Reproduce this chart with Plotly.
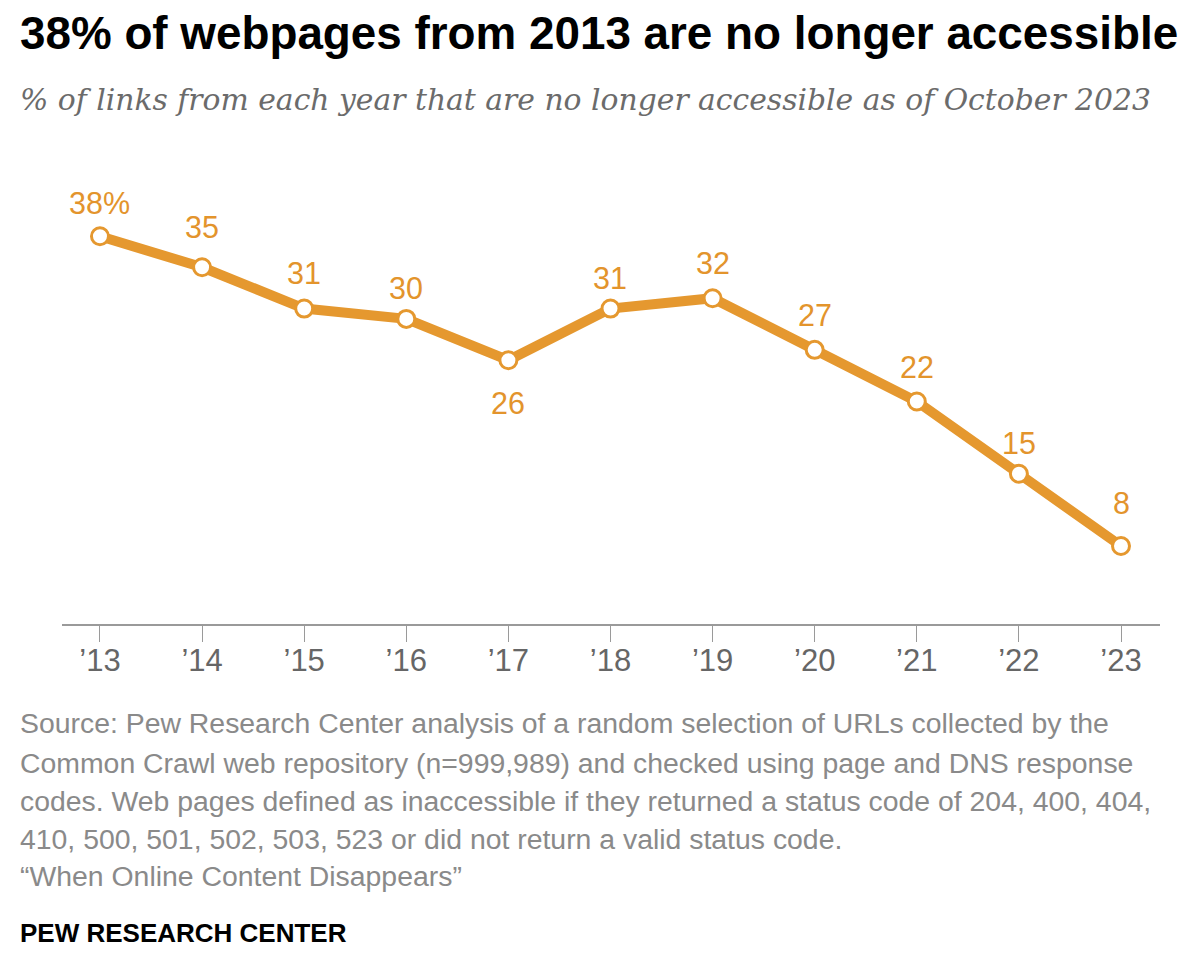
import plotly.graph_objects as go

# ---- data ----
years = [2013, 2014, 2015, 2016, 2017, 2018, 2019, 2020, 2021, 2022, 2023]
tick_labels = ["’13", "’14", "’15", "’16", "’17", "’18", "’19", "’20", "’21", "’22", "’23"]
pct_inaccessible = [38, 35, 31, 30, 26, 31, 32, 27, 22, 15, 8]
value_labels = ["38%", "35", "31", "30", "26", "31", "32", "27", "22", "15", "8"]

title_text = "38% of webpages from 2013 are no longer accessible"
subtitle_text = "% of links from each year that are no longer accessible as of October 2023"
source_lines = [
    "Source: Pew Research Center analysis of a random selection of URLs collected by the",
    "Common Crawl web repository (n=999,989) and checked using page and DNS response",
    "codes. Web pages defined as inaccessible if they returned a status code of 204, 400, 404,",
    "410, 500, 501, 502, 503, 523 or did not return a valid status code.",
    "“When Online Content Disappears”",
]
footer_text = "PEW RESEARCH CENTER"

# ---- style ----
W, H = 1200, 959
L, R, T, B = 62, 40, 164, 335
ORANGE = "#E5982F"
LABEL_ORANGE = "#E3942C"
SANS = "Liberation Sans, Arial, sans-serif"
SERIF = "DejaVu Serif, Georgia, serif"
# per-label vertical offset (px, negative = above the point)
label_shift = [-33, -40, -36, -31, 43, -31, -35, -35, -34, -31, -43]

plot_w = W - L - R
plot_h = H - T - B


def px_x(px):
    return (px - L) / plot_w


def px_y(py):
    return (H - B - py) / plot_h


fig = go.Figure()
fig.add_trace(go.Scatter(
    x=years, y=pct_inaccessible, mode="lines+markers",
    line=dict(color=ORANGE, width=10),
    marker=dict(size=17, color="white", line=dict(color=ORANGE, width=3)),
    cliponaxis=False, hoverinfo="skip", showlegend=False,
))

annotations = []
for x, y, t, s in zip(years, pct_inaccessible, value_labels, label_shift):
    annotations.append(dict(
        x=x, y=y, xref="x", yref="y", text=t, showarrow=False,
        yshift=-s, xanchor="center", yanchor="middle",
        font=dict(family=SANS, size=30.5, color=LABEL_ORANGE),
    ))

annotations.append(dict(
    x=px_x(18), y=px_y(33), xref="paper", yref="paper", text="<b>" + title_text + "</b>",
    showarrow=False, xanchor="left", yanchor="middle",
    font=dict(family=SANS, size=45.8, color="#000000"),
))
annotations.append(dict(
    x=px_x(18), y=px_y(100), xref="paper", yref="paper", text="<i>" + subtitle_text + "</i>",
    showarrow=False, xanchor="left", yanchor="middle",
    font=dict(family=SERIF, size=29.8, color="#6b6b6b"),
))
source_centers = [723, 763, 801, 839, 876]
for line, cy in zip(source_lines, source_centers):
    annotations.append(dict(
        x=px_x(18), y=px_y(cy), xref="paper", yref="paper", text=line,
        showarrow=False, xanchor="left", yanchor="middle",
        font=dict(family=SANS, size=28.4, color="#8a8a8a"),
    ))
annotations.append(dict(
    x=px_x(18), y=px_y(933), xref="paper", yref="paper", text="<b>" + footer_text + "</b>",
    showarrow=False, xanchor="left", yanchor="middle",
    font=dict(family=SANS, size=26, color="#000000"),
))

fig.update_layout(
    width=W, height=H,
    margin=dict(l=L, r=R, t=T, b=B, pad=0),
    paper_bgcolor="white", plot_bgcolor="white",
    annotations=annotations,
    xaxis=dict(
        range=[2012.628, 2023.382], tickmode="array", tickvals=years, ticktext=tick_labels,
        showline=True, linecolor="#9a9a9a", linewidth=2,
        ticks="outside", ticklen=16, tickcolor="#9a9a9a", tickwidth=1,
        ticklabelstandoff=-8,
        showgrid=False, zeroline=False,
        tickfont=dict(family=SANS, size=31, color="#666666"),
        fixedrange=True,
    ),
    yaxis=dict(range=[0.45, 45], visible=False, showgrid=False, zeroline=False, fixedrange=True),
)

fig.write_html("out.html")
